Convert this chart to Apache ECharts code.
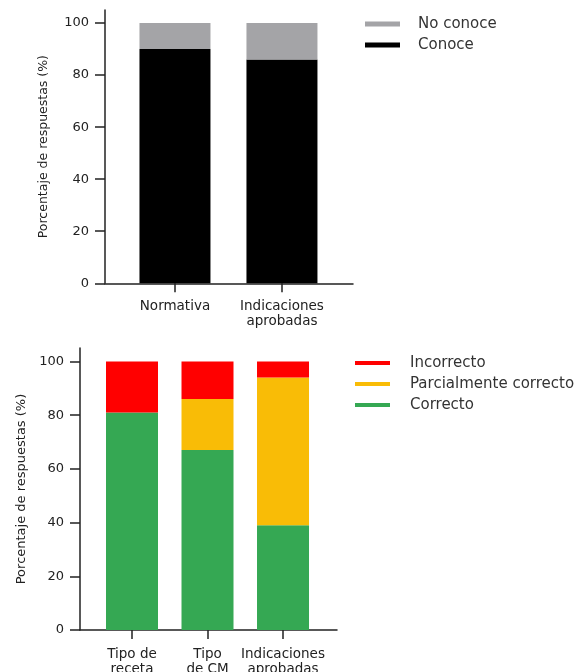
<!DOCTYPE html>
<html>
<head>
<meta charset="utf-8">
<script src="https://cdn.jsdelivr.net/npm/echarts@6/dist/echarts.min.js"></script>
<style>
html,body{margin:0;padding:0;background:#fff;}
#c{width:579px;height:672px;}
</style>
</head>
<body>
<div id="c"></div>
<script>
// ---- Data ----
var topCategories = ['Normativa', 'Indicaciones\naprobadas'];
var topConoce = [90, 86];
var topNoConoce = [10, 14];

var botCategories = ['Tipo de\nreceta', 'Tipo\nde CM', 'Indicaciones\naprobadas'];
var botCorrecto = [81, 67, 39];
var botParcial = [0, 19, 55];
var botIncorrecto = [19, 14, 6];

var yTicks = [0, 20, 40, 60, 80, 100];
var yAxisName = 'Porcentaje de respuestas (%)';

// ---- Helpers ----
// rows are [value, categoryPosition]; encode maps them to y and x
function pairs(arr) { return arr.map(function (v, i) { return [v, i + 1]; }); }
function idx(arr) { return arr.map(function (v, i) { return i + 1; }); }

var FONT = 'DejaVu Sans';
var AXC = '#222';

function xAxisFor(cats, gridIndex, min, max, margin) {
  return {
    type: 'value', gridIndex: gridIndex, min: min, max: max,
    splitLine: { show: false },
    axisLine: { show: true, lineStyle: { color: AXC, width: 1.5 } },
    axisTick: { show: true, length: 9, lineStyle: { color: AXC, width: 1.5 }, customValues: idx(cats) },
    axisLabel: {
      customValues: idx(cats), margin: margin, color: '#222', fontFamily: FONT, fontSize: 13.5, lineHeight: 15,
      align: 'center',
      formatter: function (v) { return cats[Math.round(v) - 1] || ''; }
    }
  };
}
function yAxisFor(gridIndex, fs, gap) {
  return {
    type: 'value', gridIndex: gridIndex, min: 0, max: 105,
    splitLine: { show: false },
    axisLine: { show: true, lineStyle: { color: AXC, width: 1.5 } },
    axisTick: { show: true, length: 10, lineStyle: { color: AXC, width: 1.5 }, customValues: yTicks },
    axisLabel: { customValues: yTicks, margin: 16, color: '#222', fontFamily: FONT, fontSize: 13 },
    name: yAxisName, nameLocation: 'middle', nameRotate: 90, nameGap: gap,
    nameTextStyle: { color: '#222', fontFamily: FONT, fontSize: fs }
  };
}
function barSeries(name, gi, stack, width, color, values) {
  return {
    name: name, type: 'bar', xAxisIndex: gi, yAxisIndex: gi, stack: stack, barWidth: width,
    encode: { x: 1, y: 0 },
    itemStyle: { color: color }, data: pairs(values)
  };
}

var chart = echarts.init(document.getElementById('c'), null, { renderer: 'canvas' });
chart.setOption({
  animation: false,
  backgroundColor: '#fff',
  grid: [
    { left: 105, top: 10, width: 248, height: 273.3, containLabel: false, outerBoundsMode: 'none' },
    { left: 80, top: 348, width: 257, height: 282, containLabel: false, outerBoundsMode: 'none' }
  ],
  xAxis: [
    xAxisFor(topCategories, 0, 0.346, 2.664, 16),
    xAxisFor(botCategories, 1, 0.3113, 3.715, 17)
  ],
  yAxis: [
    yAxisFor(0, 12.5, 55),
    yAxisFor(1, 13, 51.5)
  ],
  legend: [
    {
      data: ['No conoce', 'Conoce'], orient: 'vertical', left: 365, top: 16, padding: 0,
      icon: 'rect', itemWidth: 35, itemHeight: 5, itemGap: 5,
      textStyle: { color: '#333', fontFamily: FONT, fontSize: 15, lineHeight: 16, padding: [0, 0, 0, 13] }
    },
    {
      data: ['Incorrecto', 'Parcialmente correcto', 'Correcto'], orient: 'vertical', left: 355, top: 355, padding: 0,
      icon: 'rect', itemWidth: 35, itemHeight: 4, itemGap: 5,
      textStyle: { color: '#333', fontFamily: FONT, fontSize: 15, lineHeight: 16, padding: [0, 0, 0, 15] }
    }
  ],
  series: [
    barSeries('Conoce', 0, 'top', 71, '#000000', topConoce),
    barSeries('No conoce', 0, 'top', 71, '#A4A4A7', topNoConoce),
    barSeries('Correcto', 1, 'bot', 52, '#35A853', botCorrecto),
    barSeries('Parcialmente correcto', 1, 'bot', 52, '#F9BC06', botParcial),
    barSeries('Incorrecto', 1, 'bot', 52, '#FF0000', botIncorrecto)
  ]
});
</script>
</body>
</html>
